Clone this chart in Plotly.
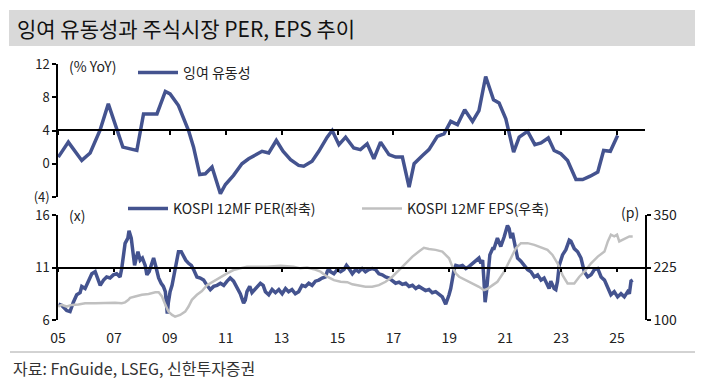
import plotly.graph_objects as go

W, H = 702, 388


def px_x(p):
    return p / W


def px_y(p):
    return 1 - p / H


# ---------------- data ----------------
tick_years = [2005, 2007, 2009, 2011, 2013, 2015, 2017, 2019, 2021, 2023, 2025]
tick_labels = ["05", "07", "09", "11", "13", "15", "17", "19", "21", "23", "25"]

liq_year = [2005.01, 2005.37, 2005.85, 2006.15, 2006.50, 2006.80, 2007.32, 2007.82,
            2008.06, 2008.54, 2008.84, 2009.01, 2009.31, 2009.67, 2009.85, 2010.07,
            2010.27, 2010.51, 2010.81, 2010.99, 2011.28, 2011.58, 2011.82, 2012.06,
            2012.30, 2012.54, 2012.81, 2013.05, 2013.32, 2013.61, 2013.79, 2014.09,
            2014.33, 2014.63, 2014.81, 2015.05, 2015.29, 2015.58, 2015.82, 2016.06,
            2016.30, 2016.54, 2016.84, 2017.08, 2017.32, 2017.56, 2017.74, 2018.04,
            2018.27, 2018.57, 2018.81, 2019.05, 2019.29, 2019.55, 2019.83, 2020.06,
            2020.30, 2020.58, 2020.78, 2021.02, 2021.30, 2021.50, 2021.80, 2022.06,
            2022.28, 2022.54, 2022.75, 2022.99, 2023.23, 2023.53, 2023.77, 2024.04,
            2024.31, 2024.52, 2024.76, 2025.02]
liq_yoy = [0.8, 2.6, 0.4, 1.3, 4.0, 7.2, 2.0, 1.6,
           6.0, 6.0, 8.7, 8.4, 7.0, 4.0, 2.0, -1.3,
           -1.2, -0.4, -3.6, -2.5, -1.4, 0.0, 0.6, 1.0,
           1.5, 1.3, 2.8, 1.5, 0.5, -0.2, -0.3, 0.3,
           1.5, 3.2, 4.0, 2.3, 3.2, 1.9, 1.7, 2.4,
           0.6, 2.6, 1.1, 0.8, 0.8, -2.8, 0.0, 1.0,
           1.7, 3.3, 3.6, 5.1, 4.7, 6.5, 5.1, 6.4,
           10.5, 7.7, 7.3, 5.4, 1.4, 3.2, 3.9, 2.3,
           2.5, 3.1, 1.6, 1.2, 0.4, -1.9, -1.9, -1.5,
           -1.0, 1.6, 1.5, 3.4]

per_year = [2005.02, 2005.13, 2005.31, 2005.43, 2005.55, 2005.67, 2005.79, 2005.85, 2005.97,
            2006.09, 2006.21, 2006.33, 2006.39, 2006.51, 2006.63, 2006.74, 2006.86, 2006.98,
            2007.10, 2007.22, 2007.28, 2007.34, 2007.40, 2007.50, 2007.54, 2007.62, 2007.68,
            2007.74, 2007.80, 2007.86, 2007.94, 2008.02, 2008.12, 2008.18, 2008.26, 2008.36,
            2008.42, 2008.50, 2008.60, 2008.69, 2008.77, 2008.84, 2008.87, 2008.91, 2008.95,
            2009.01, 2009.08, 2009.13, 2009.22, 2009.31, 2009.41, 2009.49, 2009.57, 2009.67,
            2009.77, 2009.85, 2009.97, 2010.09, 2010.21, 2010.33, 2010.45, 2010.57, 2010.69,
            2010.81, 2010.93, 2011.05, 2011.16, 2011.28, 2011.40, 2011.52, 2011.64, 2011.70,
            2011.76, 2011.86, 2011.94, 2012.06, 2012.18, 2012.24, 2012.34, 2012.42, 2012.54,
            2012.66, 2012.78, 2012.90, 2013.02, 2013.14, 2013.25, 2013.37, 2013.49, 2013.61,
            2013.73, 2013.85, 2013.97, 2014.09, 2014.21, 2014.33, 2014.45, 2014.57, 2014.63,
            2014.69, 2014.75, 2014.87, 2014.99, 2015.11, 2015.23, 2015.32, 2015.41, 2015.53,
            2015.65, 2015.76, 2015.88, 2016.00, 2016.12, 2016.24, 2016.36, 2016.48, 2016.60,
            2016.72, 2016.84, 2016.96, 2017.08, 2017.20, 2017.32, 2017.44, 2017.56, 2017.68,
            2017.80, 2017.91, 2018.03, 2018.15, 2018.27, 2018.39, 2018.51, 2018.63, 2018.75,
            2018.87, 2018.93, 2018.99, 2019.05, 2019.11, 2019.17, 2019.23, 2019.35, 2019.47,
            2019.59, 2019.71, 2019.83, 2019.95, 2020.06, 2020.13, 2020.19, 2020.24, 2020.28,
            2020.33, 2020.40, 2020.45, 2020.55, 2020.60, 2020.72, 2020.84, 2020.96, 2021.08,
            2021.14, 2021.20, 2021.26, 2021.32, 2021.38, 2021.44, 2021.56, 2021.68, 2021.80,
            2021.92, 2022.04, 2022.16, 2022.28, 2022.39, 2022.51, 2022.57, 2022.63, 2022.75,
            2022.81, 2022.87, 2022.93, 2023.05, 2023.17, 2023.29, 2023.35, 2023.47, 2023.59,
            2023.71, 2023.83, 2023.95, 2024.07, 2024.19, 2024.31, 2024.43, 2024.55, 2024.67,
            2024.78, 2024.90, 2025.02, 2025.14, 2025.26, 2025.38, 2025.44, 2025.50, 2025.56]
per_val = [7.5, 7.4, 6.9, 6.8, 7.7, 8.4, 8.6, 9.2, 9.0,
           9.8, 10.4, 10.6, 10.1, 9.3, 9.8, 10.1, 10.0, 10.3,
           10.4, 10.1, 10.9, 11.9, 13.3, 13.8, 14.5, 13.8, 12.3,
           11.2, 11.9, 12.5, 11.7, 11.9, 11.2, 10.3, 10.6, 11.4,
           11.9, 11.1, 10.0, 9.5, 9.2, 8.7, 7.4, 6.6, 7.7,
           8.7, 9.3, 10.1, 11.4, 12.5, 12.5, 12.0, 11.7, 11.4,
           11.2, 10.8, 10.1, 10.0, 9.8, 9.3, 8.9, 9.2, 9.3,
           9.5, 9.3, 9.7, 10.0, 9.7, 9.0, 8.5, 7.6, 7.9,
           8.7, 9.2, 8.6, 9.0, 9.3, 9.5, 9.3, 8.7, 8.4,
           8.9, 8.6, 8.9, 8.5, 9.0, 8.7, 8.9, 8.5, 8.7,
           9.3, 9.2, 9.5, 9.3, 9.7, 9.8, 10.0, 10.1, 10.6,
           10.9, 10.6, 10.4, 10.8, 10.6, 10.8, 11.2, 10.9, 10.4,
           10.8, 10.6, 10.9, 10.6, 10.8, 10.9, 10.8, 10.4, 10.3,
           10.1, 10.0, 9.7, 9.5, 9.6, 9.4, 9.5, 9.2, 9.3,
           9.0, 9.2, 9.0, 8.8, 8.9, 8.6, 8.7, 8.4, 8.2,
           7.5, 7.9, 8.4, 9.0, 10.1, 10.8, 11.2, 11.1, 11.2,
           10.9, 11.1, 11.4, 11.6, 11.9, 11.4, 11.7, 9.7, 7.7,
           8.7, 10.6, 12.2, 12.8, 12.8, 13.8, 13.0, 13.9, 15.0,
           14.7, 13.8, 14.3, 13.5, 12.8, 11.9, 11.6, 11.2, 10.8,
           10.6, 10.1, 10.3, 9.8, 10.0, 9.3, 9.0, 9.7, 9.0,
           8.9, 9.7, 11.2, 12.2, 12.7, 13.6, 13.5, 12.8, 12.5,
           11.9, 10.6, 10.1, 10.3, 10.8, 10.9, 10.1, 9.8, 9.0,
           8.4, 8.7, 8.2, 8.5, 8.2, 8.7, 8.5, 9.7, 9.8]

eps_year = [2005.01, 2005.13, 2005.31, 2005.49, 2005.73, 2005.97, 2006.33, 2006.68, 2007.04,
            2007.28, 2007.40, 2007.52, 2007.58, 2007.76, 2008.00, 2008.24, 2008.48, 2008.60,
            2008.72, 2008.84, 2008.95, 2009.08, 2009.19, 2009.37, 2009.55, 2009.67, 2009.79,
            2009.97, 2010.15, 2010.33, 2010.57, 2010.81, 2011.05, 2011.28, 2011.52, 2011.76,
            2012.00, 2012.48, 2012.96, 2013.43, 2013.67, 2013.91, 2014.15, 2014.39, 2014.63,
            2014.87, 2015.11, 2015.35, 2015.53, 2015.76, 2016.00, 2016.24, 2016.48, 2016.72,
            2016.96, 2017.20, 2017.44, 2017.68, 2017.91, 2018.09, 2018.27, 2018.51, 2018.75,
            2018.99, 2019.11, 2019.23, 2019.35, 2019.59, 2019.83, 2020.06, 2020.24, 2020.36,
            2020.55, 2020.72, 2020.96, 2021.20, 2021.38, 2021.56, 2021.80, 2022.04, 2022.28,
            2022.51, 2022.69, 2022.87, 2023.05, 2023.23, 2023.47, 2023.65, 2023.83, 2024.07,
            2024.31, 2024.55, 2024.67, 2024.78, 2024.90, 2025.00, 2025.08, 2025.20, 2025.32,
            2025.44, 2025.56]
eps_val = [132, 136, 132, 136, 137, 140, 140, 141, 141,
           140, 142, 148, 153, 156, 160, 162, 166, 166,
           156, 136, 120, 112, 108, 112, 120, 132, 148,
           160, 169, 183, 193, 203, 211, 219, 223, 227,
           227, 227, 229, 227, 223, 225, 221, 215, 203,
           195, 191, 190, 185, 182, 179, 179, 183, 191,
           203, 219, 235, 251, 263, 272, 269, 267, 263,
           247, 227, 211, 203, 195, 187, 179, 171, 174,
           183, 191, 215, 247, 271, 283, 283, 279, 272,
           267, 255, 235, 207, 187, 187, 203, 215, 235,
           251, 263, 287, 303, 299, 303, 287, 291, 295,
           299, 299]

# ---------------- style ----------------
BLUE = "#44538f"
GRAY = "#c0c0c0"
FONT = "Noto Sans CJK KR"
TXT = "#222222"
X_DOMAIN = [px_x(58), px_x(645)]
X_RANGE = [2005, 2026]

fig = go.Figure()
fig.add_trace(go.Scatter(x=liq_year, y=liq_yoy, mode="lines", name="잉여 유동성",
                         line=dict(color=BLUE, width=3.5), xaxis="x", yaxis="y",
                         legend="legend"))
fig.add_trace(go.Scatter(x=per_year, y=per_val, mode="lines", name="KOSPI 12MF PER(좌축)",
                         line=dict(color=BLUE, width=3.5), xaxis="x2", yaxis="y2",
                         legend="legend2"))
fig.add_trace(go.Scatter(x=eps_year, y=eps_val, mode="lines", name="KOSPI 12MF EPS(우축)",
                         line=dict(color=GRAY, width=2.5), xaxis="x2", yaxis="y3",
                         legend="legend3"))
fig.add_trace(go.Scatter(x=[None], y=[None], mode="lines", showlegend=False,
                         hoverinfo="skip", xaxis="x3", yaxis="y2"))

axis_common = dict(showgrid=False, zeroline=False, linecolor="black", linewidth=1.5,
                   tickcolor="black", tickwidth=1.5, fixedrange=True, automargin=False,
                   tickfont=dict(family=FONT, size=14, color=TXT))
left_tick = dict(family=FONT, size=13, color=TXT)

fig.update_layout(
    template="none",
    width=W, height=H,
    margin=dict(l=0, r=0, t=0, b=0, pad=0),
    paper_bgcolor="white", plot_bgcolor="rgba(0,0,0,0)",
    font=dict(family=FONT, size=14, color=TXT),
    xaxis=dict(domain=X_DOMAIN, range=X_RANGE, anchor="free", position=px_y(130),
               showline=True, ticks="outside", ticklen=4, tickvals=tick_years,
               showticklabels=False, **axis_common),
    yaxis=dict(domain=[px_y(197), px_y(64)], range=[-4, 12], anchor="x",
               showline=True, ticks="outside", ticklen=4,
               tickvals=[-4, 0, 4, 8, 12], ticktext=["(4)", "0", "4", "8", "12"],
               **{**axis_common, "tickfont": left_tick}),
    xaxis2=dict(domain=X_DOMAIN, range=X_RANGE, anchor="y2", showline=False,
                ticks="outside", ticklen=5, tickvals=tick_years, ticktext=tick_labels,
                **{**axis_common, "tickcolor": "rgba(0,0,0,0)"}),
    xaxis3=dict(range=X_RANGE, overlaying="x2", anchor="free", position=px_y(267.5),
                showline=True, ticks="outside", ticklen=4, tickvals=tick_years,
                showticklabels=False, **axis_common),
    yaxis2=dict(domain=[px_y(320), px_y(215)], range=[6, 16], anchor="x2",
                showline=True, ticks="outside", ticklen=4, tickvals=[6, 11, 16],
                **{**axis_common, "tickfont": left_tick}),
    yaxis3=dict(range=[100, 350], overlaying="y2", side="right", anchor="x2",
                showline=True, ticks="outside", ticklen=4, tickvals=[100, 225, 350],
                **axis_common),
    legend=dict(x=px_x(133), y=px_y(73), xanchor="left", yanchor="middle",
                bgcolor="rgba(0,0,0,0)", borderwidth=0, itemwidth=40,
                font=dict(family=FONT, size=14, color=TXT)),
    legend2=dict(x=px_x(123), y=px_y(209), xanchor="left", yanchor="middle",
                 bgcolor="rgba(0,0,0,0)", borderwidth=0, itemwidth=40,
                 font=dict(family=FONT, size=14, color=TXT)),
    legend3=dict(x=px_x(357), y=px_y(209), xanchor="left", yanchor="middle",
                 bgcolor="rgba(0,0,0,0)", borderwidth=0, itemwidth=40,
                 font=dict(family=FONT, size=14, color=TXT)),
    shapes=[
        dict(type="rect", xref="paper", yref="paper", x0=px_x(9), x1=px_x(695),
             y0=px_y(46), y1=px_y(10), fillcolor="#d9d9d9", line=dict(width=0),
             layer="below"),
        dict(type="line", xref="paper", yref="paper", x0=px_x(10), x1=px_x(695),
             y0=px_y(352), y1=px_y(352), line=dict(color="#a6a6a6", width=1)),
    ],
    annotations=[
        dict(text="잉여 유동성과 주식시장 PER, EPS 추이", x=px_x(15), y=px_y(28),
             xref="paper", yref="paper", xanchor="left", yanchor="middle",
             showarrow=False, font=dict(family=FONT, size=21, color="#111111")),
        dict(text="(% YoY)", x=px_x(67), y=px_y(66), xref="paper", yref="paper",
             xanchor="left", yanchor="middle", showarrow=False,
             font=dict(family=FONT, size=14, color=TXT)),
        dict(text="(x)", x=px_x(67), y=px_y(215), xref="paper", yref="paper",
             xanchor="left", yanchor="middle", showarrow=False,
             font=dict(family=FONT, size=14, color=TXT)),
        dict(text="(p)", x=px_x(619), y=px_y(212), xref="paper", yref="paper",
             xanchor="left", yanchor="middle", showarrow=False,
             font=dict(family=FONT, size=14, color=TXT)),
        dict(text="자료: FnGuide, LSEG, 신한투자증권", x=px_x(11), y=px_y(368),
             xref="paper", yref="paper", xanchor="left", yanchor="middle",
             showarrow=False, font=dict(family=FONT, size=16, color="#333333")),
    ],
)

fig.write_html("out.html", config={"displayModeBar": False},
               post_script="document.body.style.margin='0';")
